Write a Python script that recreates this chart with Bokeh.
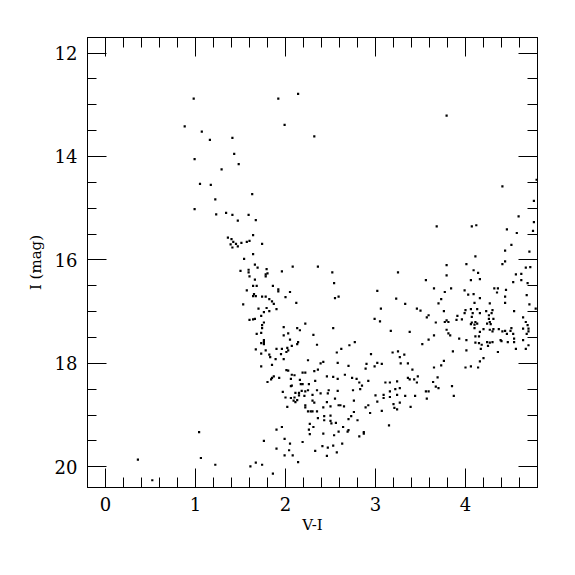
from bokeh.plotting import figure
from bokeh.models import (Range1d, LinearAxis, FixedTicker, CustomJSTickFormatter,
                          ColumnDataSource)
from bokeh.embed import file_html
from bokeh.resources import INLINE

# ---------------- data: (V-I, I) pairs ----------------
bright_blue = [
    (0.98, 12.88), (1.92, 12.88), (2.14, 12.79), (1.99, 13.39), (2.32, 13.61),
    (0.88, 13.42), (1.07, 13.52), (1.16, 13.68), (1.41, 13.64), (1.43, 13.95),
    (0.99, 14.05), (1.48, 14.15), (1.29, 14.25), (1.05, 14.53), (1.17, 14.55),
    (1.22, 14.83), (0.99, 15.02), (1.23, 15.12), (1.34, 15.09), (1.41, 15.13),
    (1.47, 15.24), (1.59, 15.13), (1.36, 15.57), (1.40, 15.60), (1.42, 15.65),
    (1.39, 15.70), (1.45, 15.69), (1.47, 15.74), (1.41, 15.76), (1.51, 15.67),
    (1.57, 15.65), (1.60, 15.63), (1.54, 15.98), (1.63, 14.73), (1.67, 15.23),
    (1.64, 15.52), (1.74, 15.69), (1.64, 15.89),
    (1.50, 16.21), (1.59, 16.19), (1.59, 16.24), (1.60, 16.32), (1.57, 16.59),
    (1.53, 16.86), (1.60, 17.16),
]

bright_red = [
    (3.79, 13.21), (4.79, 14.45), (4.41, 14.58), (4.76, 14.86), (4.59, 15.16),
    (4.76, 15.27), (3.68, 15.35), (4.07, 15.35), (4.12, 15.33), (4.46, 15.41),
    (4.75, 15.44), (4.57, 15.48), (4.51, 15.71), (4.44, 15.82), (4.71, 15.84),
    (4.11, 15.93),
]

mid_upper = [
    (1.66, 16.09), (1.69, 16.15), (1.79, 16.18), (1.78, 16.28), (1.80, 16.26),
    (1.78, 16.32), (1.96, 16.22), (2.08, 16.13), (2.36, 16.13), (2.52, 16.24),
    (3.25, 16.24), (1.66, 16.38), (2.54, 16.45), (1.64, 16.50), (1.68, 16.50),
    (1.86, 16.50), (1.92, 16.57), (1.92, 16.61), (2.05, 16.62), (3.02, 16.60),
    (1.65, 16.66), (1.64, 16.70), (1.67, 16.70), (1.74, 16.71), (1.78, 16.71),
    (1.82, 16.76), (2.00, 16.72), (2.55, 16.74), (2.59, 16.71), (3.23, 16.75),
    (1.85, 16.80), (1.87, 16.85), (2.12, 16.83), (1.70, 16.94), (1.79, 16.93),
    (1.76, 17.01), (1.82, 16.99), (1.90, 16.95), (3.06, 16.94), (1.73, 17.08),
    (1.64, 17.15), (1.66, 17.14), (2.99, 17.14), (3.05, 17.19), (1.76, 17.21),
    (1.74, 17.26), (2.22, 17.23), (1.74, 17.32), (1.98, 17.30), (2.13, 17.32),
    (2.16, 17.36), (2.53, 17.32), (3.17, 17.37), (1.68, 17.43), (1.73, 17.41),
    (2.03, 17.42), (1.98, 17.46), (2.31, 17.45),
]

mid_lower = [
    (1.76, 17.55), (1.73, 17.61), (1.76, 17.59), (1.76, 17.63), (2.05, 17.54),
    (2.14, 17.59), (2.13, 17.63), (2.77, 17.59), (2.71, 17.65), (2.35, 17.64),
    (1.67, 17.73), (1.78, 17.75), (1.90, 17.72), (1.96, 17.72), (2.02, 17.70),
    (2.07, 17.66), (2.03, 17.75), (1.73, 17.81), (1.82, 17.83), (1.83, 17.88),
    (1.95, 17.82), (2.01, 17.78), (2.62, 17.72), (2.57, 17.79), (2.95, 17.82),
    (3.19, 17.79), (3.25, 17.77), (1.89, 17.92), (1.98, 17.92), (2.25, 17.94),
    (2.39, 18.00), (2.42, 17.97), (2.58, 17.99), (2.70, 18.05), (2.90, 18.01),
    (3.02, 17.99), (3.07, 18.01), (2.99, 18.06), (1.73, 18.06), (1.85, 18.03),
    (2.01, 18.13), (2.03, 18.14), (2.19, 18.18), (2.32, 18.15), (2.36, 18.12),
    (2.89, 18.10), (1.87, 18.25), (1.85, 18.28), (1.84, 18.31), (1.80, 18.36),
    (1.93, 18.28), (2.07, 18.22), (2.10, 18.23), (2.06, 18.30), (2.22, 18.18),
    (2.46, 18.25), (2.53, 18.26), (2.58, 18.30), (2.66, 18.22), (2.74, 18.28),
    (2.79, 18.30), (2.92, 18.34), (3.11, 18.37), (3.16, 18.37), (3.24, 18.35),
    (2.06, 18.44), (2.07, 18.43), (2.16, 18.32), (2.17, 18.40), (2.19, 18.40),
    (2.26, 18.40), (2.33, 18.34), (2.82, 18.37), (2.85, 18.43), (1.97, 18.55),
    (2.11, 18.57), (2.15, 18.57), (2.18, 18.53), (2.22, 18.54), (2.25, 18.52),
    (2.35, 18.52), (2.48, 18.52), (2.58, 18.53), (2.75, 18.52), (2.83, 18.50),
    (3.22, 18.50), (3.27, 18.48), (3.16, 18.54), (2.00, 18.66), (2.06, 18.67),
    (2.10, 18.66), (2.15, 18.62), (2.21, 18.63), (2.30, 18.61), (2.39, 18.58),
    (2.47, 18.58), (2.55, 18.68), (3.00, 18.62), (3.09, 18.61), (3.09, 18.67),
    (3.16, 18.65), (3.24, 18.61),
]

red_upper = [
    (3.79, 16.10), (4.01, 16.08), (4.41, 16.08), (4.44, 16.03), (4.09, 16.20),
    (4.14, 16.25), (3.79, 16.30), (3.56, 16.39), (4.06, 16.39), (4.16, 16.37),
    (4.56, 16.28), (4.62, 16.27), (4.67, 16.15), (4.72, 16.14), (4.53, 16.43),
    (4.62, 16.39), (4.69, 16.45), (3.65, 16.55), (3.84, 16.55), (3.77, 16.62),
    (3.99, 16.59), (4.03, 16.67), (4.09, 16.66), (4.32, 16.55), (4.36, 16.55),
    (4.35, 16.63), (4.45, 16.58), (4.44, 16.71), (4.68, 16.68), (3.73, 16.76),
    (3.70, 16.84), (3.33, 16.85), (4.16, 16.74), (4.10, 16.83), (4.27, 16.84),
    (4.44, 16.83), (4.71, 16.86), (3.46, 16.94), (3.50, 16.98), (3.76, 16.99),
    (3.59, 17.07), (3.57, 17.11), (3.91, 17.08), (3.99, 17.03), (4.00, 16.97),
    (4.06, 16.95), (4.08, 17.03), (4.07, 17.10), (4.13, 16.95), (4.16, 17.03),
    (4.23, 16.99), (4.30, 16.97), (4.29, 17.03), (4.26, 17.07), (4.54, 16.99),
    (4.78, 16.94), (3.67, 17.21), (3.77, 17.20), (3.79, 17.17), (3.81, 17.20),
    (3.90, 17.16), (3.96, 17.15), (4.06, 17.24), (4.07, 17.21), (4.10, 17.25),
    (4.11, 17.20), (4.13, 17.23), (4.26, 17.14), (4.27, 17.20), (4.31, 17.14),
    (4.24, 17.23), (4.28, 17.24), (4.64, 17.11), (4.67, 17.20), (4.69, 17.26),
]

red_lower = [
    (3.79, 17.35), (3.81, 17.42), (3.83, 17.46), (3.38, 17.39), (4.10, 17.32),
    (4.16, 17.39), (4.20, 17.34), (4.27, 17.35), (4.30, 17.38), (4.31, 17.34),
    (4.37, 17.34), (4.41, 17.38), (4.44, 17.37), (4.46, 17.43), (4.50, 17.37),
    (4.51, 17.32), (4.53, 17.43), (4.64, 17.33), (4.70, 17.33), (4.70, 17.38),
    (4.68, 17.43), (3.65, 17.46), (3.59, 17.54), (3.52, 17.63), (3.93, 17.52),
    (4.01, 17.55), (4.11, 17.48), (4.15, 17.48), (4.11, 17.60), (4.15, 17.61),
    (4.18, 17.64), (4.24, 17.59), (4.27, 17.60), (4.30, 17.59), (4.25, 17.66),
    (4.39, 17.55), (4.40, 17.57), (4.47, 17.59), (4.54, 17.59), (4.54, 17.52),
    (4.64, 17.55), (4.70, 17.65), (4.56, 17.72), (4.67, 17.72), (4.36, 17.78),
    (4.17, 17.72), (4.01, 17.75), (3.86, 17.77), (3.32, 17.83), (3.27, 17.88),
    (3.28, 18.00), (3.36, 18.00), (4.20, 17.90), (4.16, 17.96), (3.76, 17.95),
    (3.73, 18.04), (3.65, 18.08), (4.00, 18.08), (4.06, 18.06), (4.14, 18.08),
    (3.41, 18.12), (3.36, 18.28), (3.38, 18.31), (3.43, 18.31), (3.47, 18.25),
    (3.46, 18.37), (3.69, 18.27), (3.64, 18.36), (3.85, 18.44), (3.56, 18.54),
    (3.59, 18.54), (3.67, 18.45), (3.70, 18.48), (3.87, 18.63), (3.33, 18.63),
    (3.44, 18.63), (3.57, 18.68), (3.39, 18.84),
]

faint = [
    (2.09, 18.72), (2.11, 18.75), (2.13, 18.71), (2.30, 18.72), (2.32, 18.76),
    (2.46, 18.75), (2.02, 18.84), (2.22, 18.81), (2.22, 18.85), (2.50, 18.83),
    (2.59, 18.81), (2.61, 18.81), (2.65, 18.83), (2.76, 18.72), (3.02, 18.74),
    (2.89, 18.85), (2.92, 18.81), (3.20, 18.79), (3.21, 18.86), (3.24, 18.89),
    (3.27, 18.76), (2.25, 18.93), (2.28, 18.93), (2.30, 18.93), (2.35, 18.93),
    (2.42, 18.85), (2.43, 19.02), (2.50, 19.01), (2.36, 19.06), (2.43, 19.10),
    (2.50, 19.11), (2.51, 19.16), (2.56, 19.15), (2.76, 18.94), (2.73, 19.02),
    (2.70, 19.08), (2.80, 19.10), (2.94, 18.96), (3.07, 18.92), (2.27, 19.17),
    (2.31, 19.23), (2.26, 19.28), (1.90, 19.28), (1.96, 19.23), (2.64, 19.23),
    (2.59, 19.32), (2.69, 19.32), (2.70, 19.29), (2.87, 19.33), (2.87, 19.36),
    (2.82, 19.41), (3.15, 19.20), (2.27, 19.37), (2.42, 19.36), (2.54, 19.39),
    (1.99, 19.46), (1.76, 19.50), (2.05, 19.55), (2.19, 19.52), (2.63, 19.55),
    (2.41, 19.60), (2.47, 19.63), (2.53, 19.59), (1.90, 19.65), (2.04, 19.68),
    (2.33, 19.69), (2.57, 19.72), (1.99, 19.78), (2.08, 19.78), (2.14, 19.91),
    (2.46, 19.79), (1.67, 19.92), (1.61, 19.99), (1.74, 19.96), (1.86, 20.13),
    (0.36, 19.86), (0.52, 20.26), (1.04, 19.33), (1.06, 19.83), (1.22, 19.96),
]

x_ticks = [0, 1, 2, 3, 4]
y_ticks = [12, 14, 16, 18, 20]
x_minor = [-0.2 + 0.2 * i for i in range(26)]
y_minor = [11.5 + 0.5 * i for i in range(19)]

groups = [bright_blue, bright_red, mid_upper, mid_lower, red_upper, red_lower, faint]
vi = [pt[0] for g in groups for pt in g]
imag = [pt[1] for g in groups for pt in g]

FONT = "DejaVu Serif"

p = figure(frame_width=450, frame_height=450,
           x_range=Range1d(-0.2, 4.8), y_range=Range1d(20.4, 11.7),
           output_backend="svg", toolbar_location=None,
           min_border_left=87, min_border_top=37,
           min_border_right=20, min_border_bottom=62,
           background_fill_color="white", border_fill_color="white")
p.xgrid.visible = False
p.ygrid.visible = False
p.outline_line_color = "black"

src = ColumnDataSource(dict(vi=vi, imag=imag))
p.scatter(x="vi", y="imag", source=src, marker="square", size=2.2,
          fill_color="black", line_color=None)

xt = FixedTicker(ticks=x_ticks, minor_ticks=x_minor)
yt = FixedTicker(ticks=y_ticks, minor_ticks=y_minor)


def style(ax, minor_len, labels=True):
    ax.axis_line_color = "black"
    ax.major_tick_line_color = "black"
    ax.minor_tick_line_color = "black"
    ax.major_tick_in = 19
    ax.major_tick_out = 0
    ax.minor_tick_in = minor_len
    ax.minor_tick_out = 0
    ax.major_label_text_font = FONT
    ax.major_label_text_font_size = "18px"
    ax.major_label_text_color = "black"
    ax.axis_label_text_font = FONT
    ax.axis_label_text_font_size = "15px"
    ax.axis_label_text_font_style = "normal"
    ax.axis_label_text_color = "black"
    if not labels:
        ax.formatter = CustomJSTickFormatter(code="return ''")
        ax.major_label_text_font_size = "0px"


xa = p.xaxis[0]
xa.ticker = xt
xa.axis_label = "V-I"
style(xa, 10)
xa.major_label_standoff = 9
xa.axis_label_standoff = 2

ya = p.yaxis[0]
ya.ticker = yt
ya.axis_label = "I (mag)"
style(ya, 9)
ya.major_label_standoff = 10
ya.axis_label_standoff = 7

top = LinearAxis(ticker=xt)
style(top, 10, labels=False)
p.add_layout(top, "above")

right = LinearAxis(ticker=yt)
style(right, 10, labels=False)
p.add_layout(right, "right")

open("out.html", "w").write(file_html(p, INLINE))
